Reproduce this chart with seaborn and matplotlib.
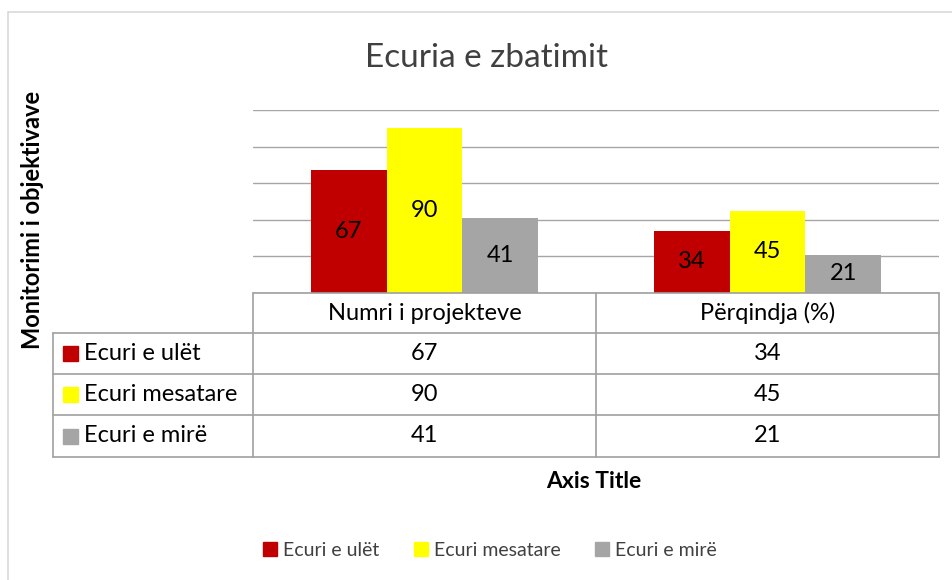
import pandas as pd
import seaborn as sns
import matplotlib.pyplot as plt
from matplotlib.lines import Line2D
from matplotlib.patches import Rectangle, Patch

# --- data ---
categories = ["Numri i projekteve", "Përqindja (%)"]
series = ["Ecuri e ulët", "Ecuri mesatare", "Ecuri e mirë"]
low = [67, 34]
medium = [90, 45]
good = [41, 21]
colors = ["#C00000", "#FFFF00", "#A5A5A5"]

sns.set_theme(style="white")
plt.rcParams["font.family"] = ["Lato", "DejaVu Sans"]

W, H = 952, 580


def fx(x):
    return x / W


def fy(y):
    return 1 - y / H


df = pd.DataFrame({
    "cat": categories * 3,
    "serie": [s for s in series for _ in categories],
    "val": low + medium + good,
})

fig = plt.figure(figsize=(9.52, 5.8), dpi=100)
ax = fig.add_axes([fx(253), fy(293), fx(939) - fx(253), fy(110) - fy(293)])

sns.barplot(data=df, x="cat", y="val", hue="serie", hue_order=series,
            order=categories, palette=colors, width=0.663, saturation=1,
            legend=False, ax=ax, linewidth=0)

for cont in ax.containers:
    ax.bar_label(cont, label_type="center", fontsize=17, color="black")

ax.set_xlim(-0.5, 1.5)
ax.set_ylim(0, 100)
ax.set_yticks([0, 20, 40, 60, 80, 100])
ax.yaxis.grid(True, color="#A6A6A6", lw=1)
ax.set_axisbelow(True)
ax.set_yticklabels([])
ax.set_xticks([])
ax.set_xlabel("")
ax.set_ylabel("")
sns.despine(ax=ax, left=True, bottom=True)

# --- outer chart border ---
fig.add_artist(Rectangle((fx(8), fy(590)), 1.0, fy(12) - fy(590),
                         transform=fig.transFigure, fill=False,
                         ec="#D9D9D9", lw=1.2))

# --- data table ---
tc = "#A0A0A0"
rows_y = [293, 333, 374, 415, 457]
col_x = [53, 253, 596, 939]


def hline(x0, x1, y):
    fig.add_artist(Line2D([fx(x0), fx(x1)], [fy(y), fy(y)],
                          transform=fig.transFigure, color=tc, lw=1.2))


def vline(x, y0, y1):
    fig.add_artist(Line2D([fx(x), fx(x)], [fy(y0), fy(y1)],
                          transform=fig.transFigure, color=tc, lw=1.2))


hline(253, 939, rows_y[0])
for y in rows_y[1:]:
    hline(53, 939, y)
for x in col_x[1:]:
    vline(x, rows_y[0], rows_y[-1])
vline(53, rows_y[1], rows_y[-1])

for i, cat in enumerate(categories):
    xc = (col_x[i + 1] + col_x[i + 2]) / 2
    fig.text(fx(xc), fy((rows_y[0] + rows_y[1]) / 2), cat, ha="center",
             va="center", fontsize=17, color="black")

values = [low, medium, good]
for r, (name, vals, c) in enumerate(zip(series, values, colors)):
    yc = (rows_y[r + 1] + rows_y[r + 2]) / 2
    fig.add_artist(Rectangle((fx(63), fy(yc + 7.5)), fx(15), 15 / H,
                             transform=fig.transFigure, color=c))
    fig.text(fx(84), fy(yc), name, ha="left", va="center",
             fontsize=17, color="black")
    for i, v in enumerate(vals):
        xc = (col_x[i + 1] + col_x[i + 2]) / 2
        fig.text(fx(xc), fy(yc), str(v), ha="center", va="center",
                 fontsize=17, color="black")

# --- titles ---
fig.text(fx(487), fy(58), "Ecuria e zbatimit", ha="center", va="center",
         fontsize=24, color="#404040")
fig.text(fx(33), fy(220), "Monitorimi i objektivave", rotation=90,
         ha="center", va="center", fontsize=17, fontweight="bold",
         color="black")
fig.text(fx(594), fy(481), "Axis Title", ha="center", va="center",
         fontsize=16.5, fontweight="bold", color="black")

# --- legend ---
handles = [Patch(color=c, label=s) for c, s in zip(colors, series)]
leg = fig.legend(handles=handles, loc="center",
                 bbox_to_anchor=(fx(490), fy(550)), ncol=3, frameon=False,
                 fontsize=14, handlelength=0.7, handleheight=0.7,
                 handletextpad=0.3, columnspacing=1.8)
for t in leg.get_texts():
    t.set_color("#404040")

fig.savefig("out.png", dpi=100)
